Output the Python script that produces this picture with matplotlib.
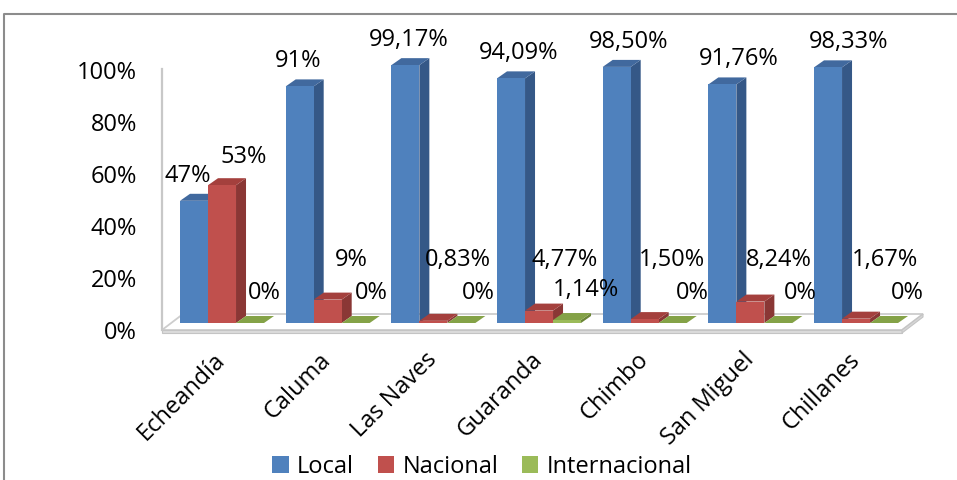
import matplotlib
matplotlib.use('Agg')
import matplotlib.pyplot as plt
from matplotlib.patches import Polygon, Patch
from matplotlib.lines import Line2D

# ---------------- data ----------------
categories = ["Echeandía", "Caluma", "Las Naves", "Guaranda", "Chimbo", "San Miguel", "Chillanes"]
local = [47, 91, 99.17, 94.09, 98.50, 91.76, 98.33]
nacional = [53, 9, 0.83, 4.77, 1.50, 8.24, 1.67]
internacional = [0, 0, 0, 1.14, 0, 0, 0]
local_labels = ["47%", "91%", "99,17%", "94,09%", "98,50%", "91,76%", "98,33%"]
nacional_labels = ["53%", "9%", "0,83%", "4,77%", "1,50%", "8,24%", "1,67%"]
internacional_labels = ["0%", "0%", "0%", "1,14%", "0%", "0%", "0%"]
series_names = ["Local", "Nacional", "Internacional"]
yticks = [0, 20, 40, 60, 80, 100]
ytick_labels = ["0%", "20%", "40%", "60%", "80%", "100%"]

# ---------------- style ----------------
FONT = ['Open Sans', 'DejaVu Sans']
plt.rcParams['font.family'] = FONT
FS = 17
front_cols = ['#4F81BD', '#C0504D', '#9BBB59']
side_cols = ['#355887', '#8A3735', '#6B8537']
top_cols = ['#41699E', '#A4403D', '#84A247']

W, H = 957, 480
fig = plt.figure(figsize=(W / 100, H / 100), dpi=100)


def fx(px):
    return px / W


def fy(py):
    return 1 - py / H


# main axes (pixel geometry of the 3D plot area)
L_PX, R_PX, B_PX, T_PX = 162, 902, 323, 63
XL, XR = -0.568, 6.435
ax = fig.add_axes([fx(L_PX), fy(B_PX), fx(R_PX) - fx(L_PX), fy(T_PX) - fy(B_PX)])
ax.set_xlim(XL, XR)
ax.set_ylim(0, 100)
ax.patch.set_visible(False)
for s in ax.spines.values():
    s.set_visible(False)
ax.set_yticks([])

sx = (XR - XL) / (R_PX - L_PX)   # data units per pixel (x)
sy = 100.0 / (B_PX - T_PX)       # data units per pixel (y)

# floor slab
yf = -7 * sy
fdx, fdy = 21 * sx, 16 * sy
floor = Polygon([(XL, yf), (XR, yf), (XR + fdx, yf + fdy), (XL + fdx, yf + fdy)],
                closed=True, facecolor='white', edgecolor='#CDCDCD', lw=1.3,
                zorder=1, clip_on=False)
ax.add_patch(floor)
th = 3 * sy
slab_front = Polygon([(XL, yf), (XR, yf), (XR, yf - th), (XL, yf - th)], closed=True,
                     facecolor='#DCDCDC', edgecolor='#C4C4C4', lw=0.8, zorder=1, clip_on=False)
slab_side = Polygon([(XR, yf), (XR + fdx, yf + fdy), (XR + fdx, yf + fdy - th), (XR, yf - th)],
                    closed=True, facecolor='#D6D6D6', edgecolor='#C4C4C4', lw=0.8,
                    zorder=1, clip_on=False)
ax.add_patch(slab_front)
ax.add_patch(slab_side)
# vertical wall edge
ax.add_line(Line2D([XL, XL], [yf, (B_PX - 69) * sy], color='#C8C8C8', lw=1.6,
                   zorder=1, clip_on=False))

# bars
bw = 28 * sx
ddx, ddy = 10 * sx, 7 * sy
series = [local, nacional, internacional]
x = list(range(len(categories)))
for si, vals in enumerate(series):
    xs = [i + (si - 1) * bw for i in x]
    ax.bar(xs, vals, width=bw, color=front_cols[si], zorder=3, clip_on=False,
           linewidth=0)
    for xc, v in zip(xs, vals):
        x0, x1 = xc - bw / 2, xc + bw / 2
        side = Polygon([(x1, 0), (x1 + ddx, ddy), (x1 + ddx, v + ddy), (x1, v)],
                       closed=True, facecolor=side_cols[si], edgecolor='none',
                       zorder=2, clip_on=False)
        top = Polygon([(x0, v), (x1, v), (x1 + ddx, v + ddy), (x0 + ddx, v + ddy)],
                      closed=True, facecolor=top_cols[si], edgecolor='none',
                      zorder=2, clip_on=False)
        ax.add_patch(side)
        ax.add_patch(top)

# data labels
for i in x:
    v = local[i]
    ax.text(i - bw + (-6 + 4.5 * i) * sx, v + 25 * sy, local_labels[i], ha='center',
            va='center', fontsize=FS, zorder=5, clip_on=False)
    v = nacional[i]
    ax.text(i + (22 + 1.2 * i) * sx, max(v + 28 * sy, (B_PX - 260) * sy), nacional_labels[i],
            ha='center', va='center', fontsize=FS, zorder=5, clip_on=False)
    v = internacional[i]
    ax.text(i + bw + (14 + 1.5 * i) * sx, max(v + 30 * sy, (B_PX - 294) * sy),
            internacional_labels[i], ha='center', va='center', fontsize=FS, zorder=5,
            clip_on=False)

# category labels
ax.set_xticks(x)
ax.set_xticklabels(categories, rotation=45, ha='right', va='center',
                   rotation_mode='anchor', fontsize=FS)
ax.tick_params(axis='x', length=0, pad=24)

# value axis labels (3D front axis)
axv = fig.add_axes([fx(L_PX), fy(330), 0.001, fy(70) - fy(330)])
axv.set_ylim(0, 100)
axv.set_yticks(yticks)
axv.set_yticklabels(ytick_labels, fontsize=FS)
axv.set_xticks([])
axv.patch.set_visible(False)
for s in axv.spines.values():
    s.set_visible(False)
axv.tick_params(axis='y', length=0, pad=18)

# legend
handles = [Patch(facecolor=c, edgecolor='none') for c in front_cols]
fig.legend(handles, series_names, loc='center', bbox_to_anchor=(fx(482), fy(467)),
           ncol=3, frameon=False, fontsize=FS, handlelength=0.7, handleheight=0.7,
           handletextpad=0.35, columnspacing=1.0, borderaxespad=0, borderpad=0)

# outer chart border
fig.add_artist(Line2D([fx(3.5), fx(3.5), fx(957)], [fy(480), fy(13.5), fy(13.5)],
                      color='#8C8C8C', lw=1.5, transform=fig.transFigure))

fig.savefig('out.png', dpi=100)
